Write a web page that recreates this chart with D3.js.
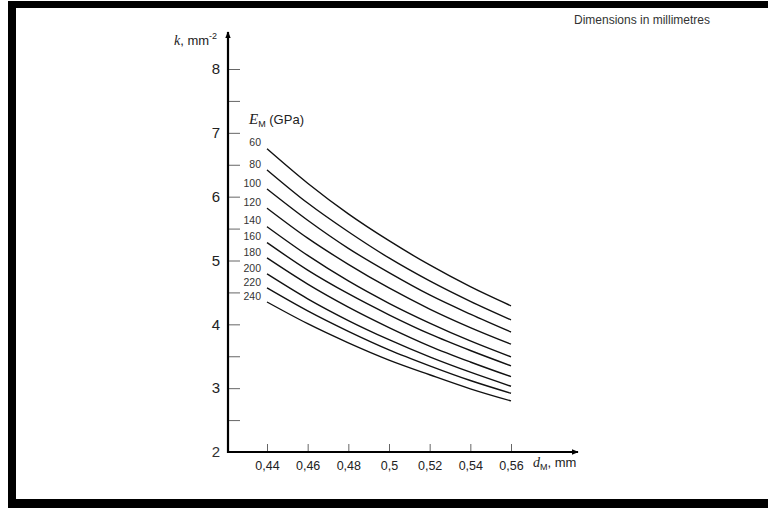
<!DOCTYPE html>
<meta charset="utf-8">
<style>
body { margin: 0; background: #fff; }
svg { display: block; font-family: "Liberation Sans", Arial, sans-serif; }
.tick line { stroke: #666; stroke-width: 1px; }
.tick text { fill: #222; }
.curves path { fill: none; stroke: #111; stroke-width: 1.4px; }
</style>
<body>
<svg width="768" height="508"></svg>
<script src="https://d3js.org/d3.v7.min.js"></script>
<script>

// diameter d_M (mm)
var dM = [0.44, 0.46, 0.48, 0.50, 0.52, 0.54, 0.56];

// modulus E_M (GPa) of each curve
var moduli = [60, 80, 100, 120, 140, 160, 180, 200, 220, 240];

// k (mm^-2) at the dM points
var k60  = [6.75, 6.21, 5.73, 5.31, 4.93, 4.59, 4.29];
var k80  = [6.42, 5.90, 5.45, 5.04, 4.68, 4.36, 4.07];
var k100 = [6.12, 5.63, 5.19, 4.81, 4.46, 4.16, 3.88];
var k120 = [5.82, 5.35, 4.94, 4.57, 4.24, 3.95, 3.69];
var k140 = [5.53, 5.08, 4.68, 4.33, 4.02, 3.74, 3.49];
var k160 = [5.28, 4.85, 4.48, 4.15, 3.85, 3.59, 3.35];
var k180 = [5.04, 4.63, 4.27, 3.95, 3.66, 3.41, 3.18];
var k200 = [4.79, 4.40, 4.06, 3.76, 3.49, 3.25, 3.03];
var k220 = [4.57, 4.21, 3.89, 3.60, 3.35, 3.12, 2.92];
var k240 = [4.35, 4.01, 3.71, 3.44, 3.21, 2.99, 2.80];

var kSeries = [k60, k80, k100, k120, k140, k160, k180, k200, k220, k240];

var xTicks = [0.44, 0.46, 0.48, 0.50, 0.52, 0.54, 0.56];
var yTicks = [2.5, 3, 3.5, 4, 4.5, 5, 5.5, 6, 6.5, 7, 7.5, 8];

var svg = d3.select("svg");

// frame
svg.append("rect").attr("x", 8).attr("y", 1).attr("width", 760).attr("height", 7).attr("fill", "#000");
svg.append("rect").attr("x", 8).attr("y", 1).attr("width", 8).attr("height", 507).attr("fill", "#000");
svg.append("rect").attr("x", 8).attr("y", 499).attr("width", 760).attr("height", 9).attr("fill", "#000");

svg.append("text")
    .attr("x", 574).attr("y", 24)
    .attr("font-size", 12).attr("fill", "#333")
    .text("Dimensions in millimetres");

var x0 = 228, y0 = 452;

var x = d3.scaleLinear().domain([0.44, 0.56]).range([267, 511]);
var y = d3.scaleLinear().domain([2, 8]).range([y0, 69]);

svg.append("defs").append("marker")
    .attr("id", "arr")
    .attr("viewBox", "0 0 10 10")
    .attr("refX", 9).attr("refY", 5)
    .attr("markerWidth", 7).attr("markerHeight", 7)
    .attr("markerUnits", "userSpaceOnUse")
    .attr("orient", "auto")
  .append("path")
    .attr("d", "M0,1L10,5L0,9z")
    .attr("fill", "#000");

// y axis ticks
var yAxis = svg.append("g")
    .attr("transform", "translate(" + x0 + ",0)")
    .call(d3.axisLeft(y)
        .tickValues(yTicks)
        .tickSizeInner(-12)
        .tickSizeOuter(0)
        .tickPadding(8)
        .tickFormat(function(d) { return d % 1 === 0 ? d : ""; }));
yAxis.select(".domain").remove();
yAxis.selectAll("text").attr("font-size", 15).attr("fill", "#333").attr("font-family", "Liberation Sans, Arial, sans-serif");

// "2" at the origin
svg.append("text")
    .attr("x", x0 - 8).attr("y", y(2)).attr("dy", "0.32em")
    .attr("text-anchor", "end").attr("font-size", 15).attr("fill", "#333")
    .text("2");

// x axis ticks
var xAxis = svg.append("g")
    .attr("transform", "translate(0," + y0 + ")")
    .call(d3.axisBottom(x)
        .tickValues(xTicks)
        .tickSizeInner(-8)
        .tickSizeOuter(0)
        .tickPadding(9)
        .tickFormat(function(d) { return d3.format(".2~f")(d).replace(".", ","); }));
xAxis.select(".domain").remove();
xAxis.selectAll("text").attr("font-size", 12.5).attr("fill", "#333").attr("font-family", "Liberation Sans, Arial, sans-serif");

// axis lines with arrows
svg.append("line")
    .attr("x1", x0).attr("y1", y0 + 1).attr("x2", x0).attr("y2", 32)
    .attr("stroke", "#000").attr("stroke-width", 2.2)
    .attr("marker-end", "url(#arr)");
svg.append("line")
    .attr("x1", x0 - 1).attr("y1", y0).attr("x2", 578).attr("y2", y0)
    .attr("stroke", "#000").attr("stroke-width", 2.2)
    .attr("marker-end", "url(#arr)");

// axis titles
var kt = svg.append("text").attr("x", 174).attr("y", 45).attr("font-size", 13).attr("fill", "#222");
kt.append("tspan").attr("font-family", "Liberation Serif, serif").attr("font-style", "italic").attr("font-size", 14).text("k");
kt.append("tspan").text(", mm");
kt.append("tspan").attr("font-size", 9).attr("dy", -6).text("-2");

var dt = svg.append("text").attr("x", 533).attr("y", 467).attr("font-size", 13).attr("fill", "#222");
dt.append("tspan").attr("font-family", "Liberation Serif, serif").attr("font-style", "italic").attr("font-size", 14).text("d");
dt.append("tspan").attr("font-size", 9).attr("dy", 3).text("M");
dt.append("tspan").attr("dy", -3).text(", mm");

var et = svg.append("text").attr("x", 249).attr("y", 124).attr("font-size", 13).attr("fill", "#222");
et.append("tspan").attr("font-family", "Liberation Serif, serif").attr("font-style", "italic").attr("font-size", 15).text("E");
et.append("tspan").attr("font-size", 9).attr("dy", 3).text("M");
et.append("tspan").attr("dy", -3).text(" (GPa)");

// curves
var line = d3.line()
    .x(function(d, i) { return x(dM[i]); })
    .y(function(d) { return y(d); })
    .curve(d3.curveMonotoneX);

svg.append("g").attr("class", "curves")
  .selectAll("path")
  .data(kSeries)
  .enter().append("path")
    .attr("d", line);

svg.append("g")
  .selectAll("text")
  .data(moduli)
  .enter().append("text")
    .attr("x", 261)
    .attr("y", function(d, i) { return y(kSeries[i][0]) - 6; })
    .attr("dy", "0.35em")
    .attr("text-anchor", "end")
    .attr("font-size", 10.5)
    .attr("fill", "#333")
    .text(function(d) { return d; });

</script>
</body>
